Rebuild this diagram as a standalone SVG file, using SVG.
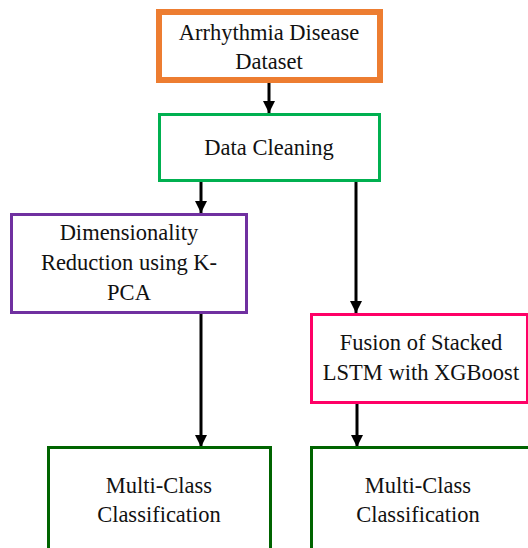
<svg xmlns="http://www.w3.org/2000/svg" width="528" height="548" viewBox="0 0 528 548">
<defs>
<style>
.box{fill:#fff}
.t{font-family:"Liberation Serif","Times New Roman",serif;font-size:22.5px;fill:#111;text-anchor:middle}
.c{stroke:#000;stroke-width:3;fill:none}
</style>
<marker id="ah" markerUnits="userSpaceOnUse" markerWidth="12" markerHeight="12" viewBox="0 0 12 12" refX="12" refY="6" orient="auto">
<path d="M0,0 L12,6 L0,12 Z" fill="#000"/>
</marker>
</defs>
<rect width="528" height="548" fill="#fff"/>
<g id="connectors">
<line class="c" x1="269" y1="83" x2="269" y2="113" marker-end="url(#ah)"/>
<line class="c" x1="201" y1="181" x2="201" y2="213" marker-end="url(#ah)"/>
<line class="c" x1="356" y1="181" x2="356" y2="313" marker-end="url(#ah)"/>
<line class="c" x1="201" y1="313" x2="201" y2="447" marker-end="url(#ah)"/>
<line class="c" x1="357" y1="403" x2="357" y2="447" marker-end="url(#ah)"/>
</g>
<g id="dataset">
<rect class="box" x="159" y="12" width="221" height="68" stroke="#ED7D31" stroke-width="6"/>
<text class="t" x="269" y="40">Arrhythmia Disease</text>
<text class="t" x="269" y="69">Dataset</text>
</g>
<g id="cleaning">
<rect class="box" x="159.5" y="114.5" width="220" height="66" stroke="#00B050" stroke-width="3"/>
<text class="t" x="269" y="155">Data Cleaning</text>
</g>
<g id="kpca">
<rect class="box" x="11.5" y="214.5" width="235" height="98" stroke="#7030A0" stroke-width="3"/>
<text class="t" x="129" y="240">Dimensionality</text>
<text class="t" x="129" y="270">Reduction using K-</text>
<text class="t" x="129" y="300">PCA</text>
</g>
<g id="fusion">
<rect class="box" x="311.5" y="314.5" width="216" height="88" stroke="#FF0066" stroke-width="3"/>
<text class="t" x="421" y="350">Fusion of Stacked</text>
<text class="t" x="421" y="380">LSTM with XGBoost</text>
</g>
<g id="mc-left">
<rect class="box" x="48.5" y="447.5" width="222" height="110" stroke="#006400" stroke-width="3"/>
<text class="t" x="159" y="493">Multi-Class</text>
<text class="t" x="159" y="522">Classification</text>
</g>
<g id="mc-right">
<rect class="box" x="311.5" y="447.5" width="222" height="110" stroke="#006400" stroke-width="3"/>
<text class="t" x="418" y="493">Multi-Class</text>
<text class="t" x="418" y="522">Classification</text>
</g>
</svg>
